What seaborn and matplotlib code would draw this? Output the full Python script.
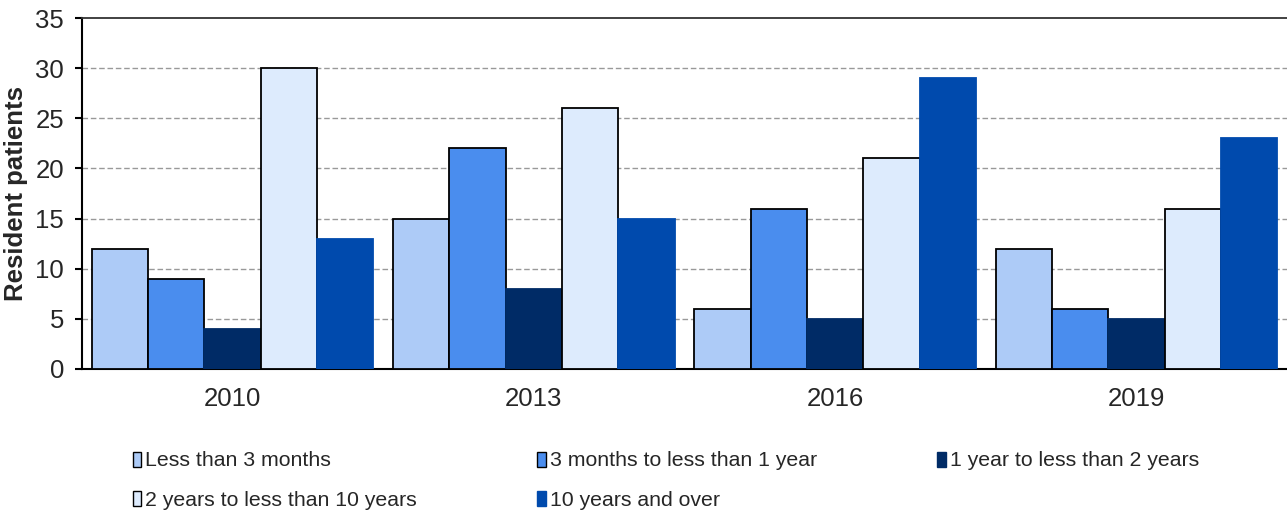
import matplotlib
matplotlib.use("Agg")
import matplotlib.pyplot as plt
import seaborn as sns
import pandas as pd
from matplotlib.patches import Patch

years = ["2010", "2013", "2016", "2019"]
durations = ["Less than 3 months", "3 months to less than 1 year", "1 year to less than 2 years",
             "2 years to less than 10 years", "10 years and over"]
less_3m = [12, 15, 6, 12]
m3_to_1y = [9, 22, 16, 6]
y1_to_2y = [4, 8, 5, 5]
y2_to_10y = [30, 26, 21, 16]
y10_plus = [13, 15, 29, 23]
yticks = [0, 5, 10, 15, 20, 25, 30, 35]

colors = ["#ADCBF7", "#4A8DEE", "#002B66", "#DDEBFD", "#004AAD"]
edges = ["black", "black", "#002B66", "black", "#004AAD"]

series = [less_3m, m3_to_1y, y1_to_2y, y2_to_10y, y10_plus]
rows = []
for d, vals in zip(durations, series):
    for y, v in zip(years, vals):
        rows.append({"Year": y, "Duration": d, "Value": v})
df = pd.DataFrame(rows)

sns.set_style("white")
plt.rcParams["font.family"] = ["Liberation Sans", "DejaVu Sans"]

fig = plt.figure(figsize=(12.87, 5.17), dpi=100)
ax = fig.add_axes([82/1287, 1-369/517, 1-82/1287, (369-18)/517])

sns.barplot(data=df, x="Year", y="Value", hue="Duration", order=years, hue_order=durations,
            palette=colors, width=0.934, saturation=1, ax=ax, legend=False, zorder=3)

for cont, ec in zip(ax.containers, edges):
    for p in cont:
        p.set_edgecolor(ec)
        p.set_linewidth(1.3)

ax.set_ylim(0, 35)
ax.set_xlim(-0.5, 3.5)
ax.set_yticks(yticks)
ax.set_yticklabels([str(t) for t in yticks], fontsize=18.5)
for t in yticks[1:-1]:
    ax.axhline(t, color="#999999", linestyle=(0, (4, 2)), linewidth=1.0, zorder=1)

ax.set_xticks(range(len(years)))
ax.set_xticklabels(years, fontsize=18.5)
ax.set_xticks([0.5, 1.5, 2.5], minor=True)
ax.tick_params(axis="x", which="major", length=0, pad=13)
ax.tick_params(axis="x", which="minor", length=6, width=1.5, color="black", direction="out")
ax.tick_params(axis="y", length=5, width=1.5, color="black", direction="out", pad=8, left=True)

ax.set_xlabel("")
ax.set_ylabel("Resident patients", fontsize=18.5, fontweight="bold", labelpad=5)

for s in ["left", "bottom"]:
    ax.spines[s].set_color("black")
    ax.spines[s].set_linewidth(1.5)
ax.spines["top"].set_color("#333333")
ax.spines["top"].set_linewidth(1.3)
ax.spines["right"].set_visible(False)

handles = [Patch(facecolor=c, edgecolor=("black" if e == "black" else c), linewidth=1.0)
           for c, e in zip(colors, edges)]
order = [0, 3, 1, 4, 2]
leg = fig.legend([handles[i] for i in order], [durations[i] for i in order],
                 loc="upper left", bbox_to_anchor=(124/1287, 1-443/517), ncol=3,
                 frameon=False, fontsize=15.3, handlelength=0.4, handleheight=0.7,
                 handletextpad=0.2, columnspacing=5.65, labelspacing=0.95, borderaxespad=0)

fig.savefig("out.png", dpi=100)
